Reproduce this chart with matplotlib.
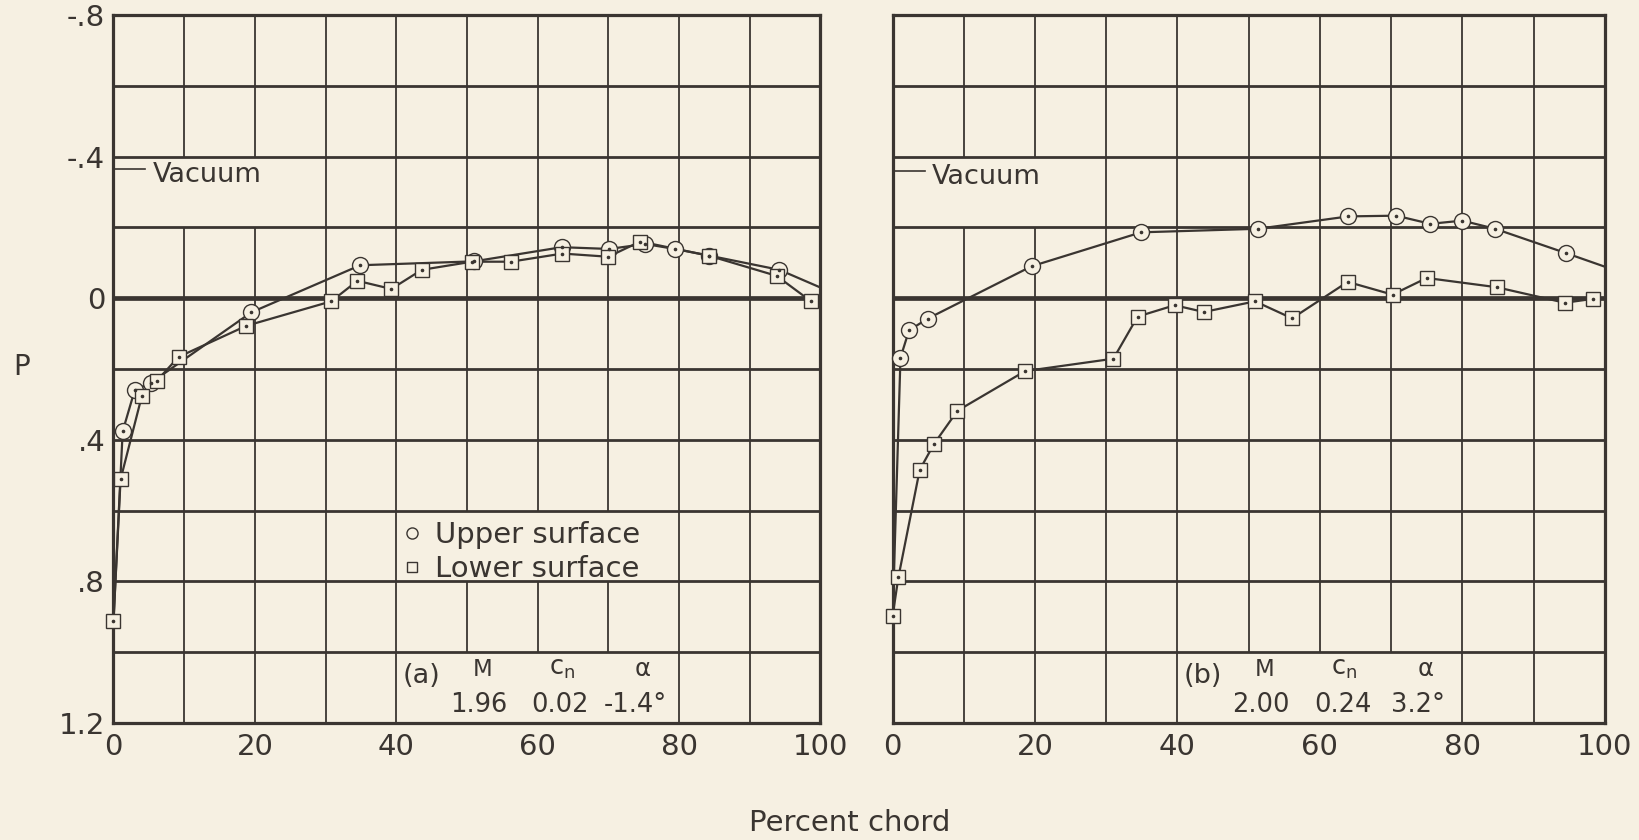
import numpy as np
import matplotlib.pyplot as plt
from matplotlib.patches import Rectangle
from matplotlib.lines import Line2D

plt.rcParams['font.family'] = ['DejaVu Sans']
plt.rcParams['mathtext.fontset'] = 'dejavusans'

BG = '#f6f0e2'
INK = '#3a3531'

# (a) M=1.96  -- percent chord / pressure coefficient P
a_upper_x = [1.3, 3.0, 5.3, 19.5, 34.9, 51.0, 63.4, 70.1, 75.2, 79.4, 84.3, 94.2]
a_upper_p = [0.376, 0.26, 0.239, 0.04, -0.093, -0.104, -0.144, -0.139, -0.153, -0.139, -0.120, -0.080]
a_upper_te = -0.03
a_lower_x = [0, 1.0, 4.0, 6.1, 9.2, 18.8, 30.8, 34.5, 39.3, 43.6, 50.7, 56.2, 63.5, 70.0, 74.5, 84.2, 93.8, 98.6]
a_lower_p = [0.912, 0.512, 0.277, 0.234, 0.166, 0.078, 0.009, -0.049, -0.026, -0.080, -0.103, -0.103,
             -0.126, -0.117, -0.160, -0.120, -0.063, 0.008]

# (b) M=2.00
b_upper_x = [1.1, 2.3, 4.9, 19.5, 34.9, 51.3, 64.0, 70.7, 75.5, 80.0, 84.6, 94.6]
b_upper_p = [0.168, 0.091, 0.058, -0.090, -0.186, -0.196, -0.231, -0.233, -0.210, -0.219, -0.196, -0.127]
b_upper_te = -0.089
b_lower_x = [0, 0.8, 3.8, 5.8, 9.1, 18.6, 31.0, 34.4, 39.6, 43.7, 50.9, 56.1, 63.9, 70.2, 75.0, 84.8, 94.4, 98.3]
b_lower_p = [0.897, 0.789, 0.485, 0.412, 0.318, 0.206, 0.171, 0.052, 0.020, 0.039, 0.009, 0.057,
             -0.046, -0.010, -0.057, -0.031, 0.013, 0.002]
b_lower_te = 0.0

tags = ['(a)', '(b)']
mach = [1.96, 2.00]
cn = [0.02, 0.24]
alpha = [-1.4, 3.2]
vacuum = [-0.365, -0.36]

xticks = [0, 20, 40, 60, 80, 100]
yticks = [-0.8, -0.4, 0, 0.4, 0.8, 1.2]
ytick_labels = ['-.8', '-.4', '0', '.4', '.8', '1.2']

fig = plt.figure(figsize=(16.4, 8.4), dpi=100, facecolor=BG)
ax1 = fig.add_axes([0.0692, 0.1393, 0.4311, 0.8429])
ax2 = fig.add_axes([0.5443, 0.1393, 0.4342, 0.8429])

panels = [
    (ax1, a_upper_x, a_upper_p, a_upper_te, a_lower_x, a_lower_p, None),
    (ax2, b_upper_x, b_upper_p, b_upper_te, b_lower_x, b_lower_p, b_lower_te),
]

for i, (ax, ux, up, ute, lx, lp, lte) in enumerate(panels):
    ax.set_facecolor(BG)
    ax.set_xlim(0, 100)
    ax.set_ylim(1.2, -0.8)

    # grid
    for v in range(10, 100, 10):
        ax.axvline(v, color=INK, lw=1.3, zorder=1)
    for h in np.arange(-0.6, 1.19, 0.2):
        ax.axhline(h, color=INK, lw=2.0 if abs(h) > 1e-6 else 3.4, zorder=3)

    # blank cells behind the lettering
    ax.add_patch(Rectangle((0.4, -0.4), 29.2, 0.2, facecolor=BG, edgecolor='none', zorder=2))
    ax.add_patch(Rectangle((40.4, 1.0), 39.2, 0.2, facecolor=BG, edgecolor='none', zorder=2))
    if i == 0:
        ax.add_patch(Rectangle((40.4, 0.6), 39.2, 0.2, facecolor=BG, edgecolor='none', zorder=2))

    # faired curves
    ux_line = [lx[0]] + ux + [100]
    up_line = [lp[0]] + up + [ute]
    ax.plot(ux_line, up_line, color=INK, lw=1.6, zorder=4)
    lx_line = lx + ([100] if lte is not None else [])
    lp_line = lp + ([lte] if lte is not None else [])
    ax.plot(lx_line, lp_line, color=INK, lw=1.6, zorder=4)

    ax.plot(ux, up, ls='none', marker='o', ms=11.5, mfc=BG, mec=INK, mew=1.0, zorder=8, clip_on=False)
    ax.plot(lx, lp, ls='none', marker='s', ms=9.5, mfc=BG, mec=INK, mew=1.0, zorder=8, clip_on=False)
    ax.plot(ux + lx, up + lp, ls='none', marker='o', ms=1.6, color=INK, zorder=9, clip_on=False)

    # vacuum mark
    ax.plot([0, 4.5], [vacuum[i], vacuum[i]], color=INK, lw=1.2, zorder=4)
    ax.text(5.5, vacuum[i] + 0.018, 'Vacuum', fontsize=19.5, color=INK, ha='left', va='center', zorder=6)

    # test conditions
    ax.text(43.6, 1.068, tags[i], fontsize=19.5, color=INK, ha='center', va='center', zorder=6)
    ax.text(52.2, 1.048, 'M', fontsize=16.5, color=INK, ha='center', va='center', zorder=6)
    ax.text(63.4, 1.045, r'$\mathregular{c_n}$', fontsize=18.5, color=INK, ha='center', va='center', zorder=6)
    ax.text(74.8, 1.048, '\u03b1', fontsize=17.5, color=INK, ha='center', va='center', zorder=6)
    ax.text(51.7, 1.15, f'{mach[i]:.2f}', fontsize=18.5, color=INK, ha='center', va='center', zorder=6)
    ax.text(63.2, 1.15, f'{cn[i]:.2f}', fontsize=18.5, color=INK, ha='center', va='center', zorder=6)
    ax.text(73.8, 1.15, f'{alpha[i]:.1f}\u00b0', fontsize=18.5, color=INK, ha='center', va='center', zorder=6)

    ax.set_xticks(xticks)
    ax.set_xticklabels([str(t) for t in xticks])
    ax.set_yticks(yticks)
    if i == 0:
        ax.set_yticklabels(ytick_labels)
    else:
        ax.set_yticklabels([])
    ax.tick_params(length=0, labelsize=21, labelcolor=INK)
    ax.tick_params(axis='x', pad=7)
    ax.tick_params(axis='y', pad=6)
    for s in ax.spines.values():
        s.set_color(INK)
        s.set_linewidth(2.3)
        s.set_zorder(7)

handles = [
    Line2D([], [], ls='none', marker='o', ms=8, mfc=BG, mec=INK, mew=1.0),
    Line2D([], [], ls='none', marker='s', ms=7, mfc=BG, mec=INK, mew=1.0),
]
leg = ax1.legend(handles, ['Upper surface', 'Lower surface'], loc='upper left',
                 bbox_to_anchor=(0.41, 0.285), frameon=False, fontsize=21,
                 handlelength=0.6, handletextpad=0.5, labelspacing=0.2, borderpad=0,
                 borderaxespad=0)
for t in leg.get_texts():
    t.set_color(INK)
leg.set_zorder(8)

fig.text(0.0134, 0.563, 'P', fontsize=20, color=INK, ha='center', va='center')
fig.text(0.518, 0.02, 'Percent chord', fontsize=21, color=INK, ha='center', va='center')

fig.savefig('out.png', dpi=100, facecolor=BG)
